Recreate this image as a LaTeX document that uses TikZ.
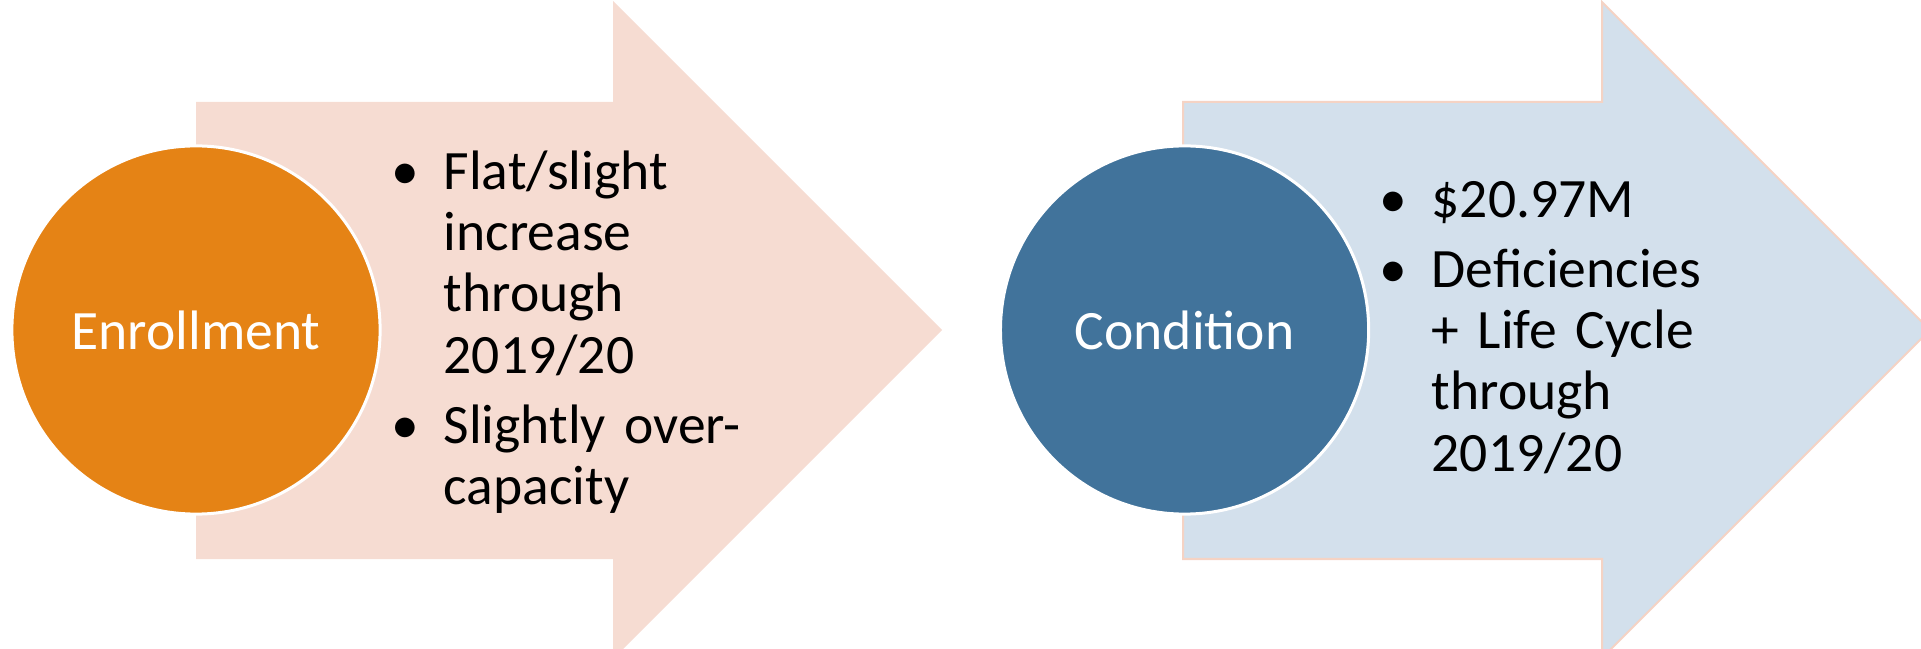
\documentclass[tikz,border=0pt]{standalone}
\usepackage{fontspec}
\setmainfont{Carlito}
\usetikzlibrary{positioning}
\definecolor{peachfill}{HTML}{F6DCD2}
\definecolor{peachline}{HTML}{F5D3C4}
\definecolor{ambercirc}{HTML}{E58315}
\definecolor{bluefill}{HTML}{D3E0EC}
\definecolor{bluecirc}{HTML}{41739B}
\newcommand{\ptitem}[1]{\noindent\makebox[0.76cm][c]{\textbullet}%
  \parbox[t]{4.2cm}{\raggedright\strut#1\strut}\par}
\tikzset{
    %circle that sits on the tail of each arrow
    hub/.style={
      circle,
      fill=#1,
      draw=white, line width=0.03cm,
      minimum size=3.68cm,
      inner sep=0pt,
      text=white,
      font=\fontsize{15.8}{17.4}\selectfont},
    points/.style={
      text width=5cm,
      inner sep=0pt,
      anchor=north west,
      font=\fontsize{15.8}{17.4}\selectfont},
}
\begin{document}
\begin{tikzpicture}[x=0.01cm, y=-0.01cm]
    \useasboundingbox (0,0) rectangle (1921,649);
    \clip (0,0) rectangle (1921,649);
    % arrows
    \fill [peachfill] (196,102) -- (613,102) -- (613,1) -- (942,330)
          -- (613,659) -- (613,559) -- (196,559) -- cycle;
    \filldraw [fill=bluefill, draw=peachline, line width=0.02cm]
          (1183,102) -- (1602,102) -- (1602,2) -- (1930,330)
          -- (1602,658) -- (1602,559) -- (1183,559) -- cycle;
    % circles
    \node (enroll) [hub=ambercirc] at (196,330)
          {Enrollment};
    \node (cond) [hub=bluecirc] [right=6.17cm of enroll]
          {Condition};
    % bullet lists
    \node (enrollpts) [points] at (367,146)
          {\lineskip=0pt
           \ptitem{Flat/slight\\increase\\through\\2019/20}\vspace{2.5pt}%
           \ptitem{Slightly over-\\capacity}};
    \node (condpts) [points] at (1355,174)
          {\lineskip=0pt
           \ptitem{\$20.97M}\vspace{2.5pt}%
           \ptitem{Deficiencies\\+ Life Cycle\\through\\2019/20}};
\end{tikzpicture}
\end{document}
